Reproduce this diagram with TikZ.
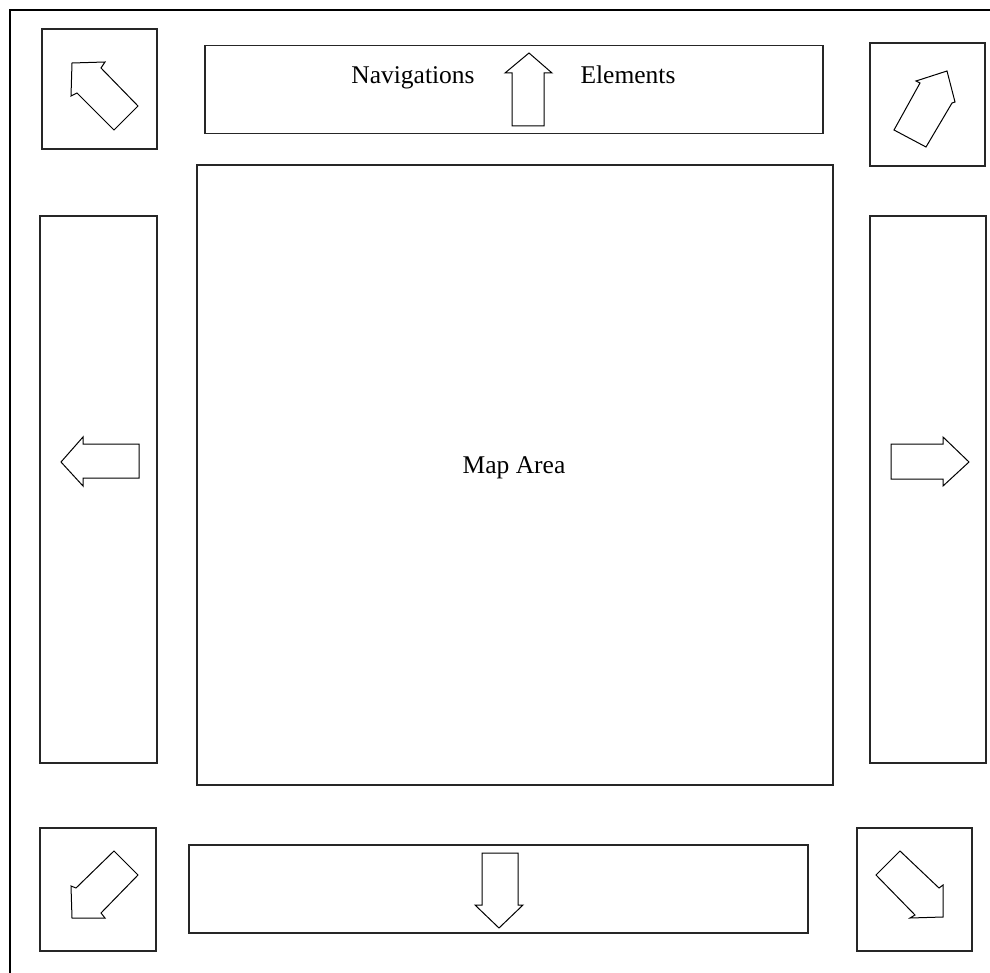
\documentclass[tikz,border=0pt]{standalone}
\usepackage{fontspec}
\setmainfont{Liberation Serif}
\begin{document}
\begin{tikzpicture}[x=1pt,y=-1pt,
  box/.style={draw=black!85,line width=1.4pt,inner sep=0pt,outer sep=0pt},
  blk/.style={draw=black,line width=1pt,line join=miter},
  lbl/.style={font=\fontsize{25.5}{28}\selectfont,inner sep=0pt,anchor=base}]
\useasboundingbox (0,0) rectangle (990,973);
\draw[line width=1.4pt] (990,10) -- (10,10) -- (10,973);
% boxes
\node[box,minimum width=115pt,minimum height=120pt] (tl) at (99.5,89) {};
\node[box,minimum width=618pt,minimum height=88pt] (top) at (514,89.5) {};
\node[box,minimum width=115pt,minimum height=123pt] (tr) at (927.5,104.5) {};
\node[box,minimum width=636pt,minimum height=620pt] (map) at (515,475) {};
\node[box,minimum width=117pt,minimum height=547pt] (left) at (98.5,489.5) {};
\node[box,minimum width=116pt,minimum height=547pt] (right) at (928,489.5) {};
\node[box,minimum width=116pt,minimum height=123pt] (bl) at (98,889.5) {};
\node[box,minimum width=619pt,minimum height=88pt] (bottom) at (498.5,889) {};
\node[box,minimum width=115pt,minimum height=123pt] (br) at (914.5,889.5) {};
% labels
\node[lbl] (nav) at (413,84) {Navigations};
\node[lbl] (elem) at (628,84) {Elements};
\node[lbl] (maplbl) at (514,473) {Map Area};
% block arrows
\draw[blk] (72,63) -- (105,62) -- (101,68) -- (138,106) -- (114,130) -- (77,93) -- (71,96) -- cycle;
\draw[blk] (947,71) -- (955,102) -- (952,103) -- (926,147) -- (894,130) -- (920,83) -- (916,81) -- cycle;
\draw[blk] (72,918) -- (71,886) -- (76,888) -- (114,851) -- (138,875) -- (101,913) -- (105,918) -- cycle;
\draw[blk] (943,917) -- (910,918) -- (915,915) -- (876,875) -- (900,851) -- (939,888) -- (943,885) -- cycle;
\draw[blk] (529,53) -- (552,73) -- (544,73) -- (544,126) -- (512,126) -- (512,73) -- (505,73) -- cycle;
\draw[blk] (61,462) -- (83,437) -- (83,444) -- (139,444) -- (139,478) -- (83,478) -- (83,486) -- cycle;
\draw[blk] (969,462) -- (943,437) -- (943,444) -- (891,444) -- (891,479) -- (943,479) -- (943,486) -- cycle;
\draw[blk] (499,928) -- (523,905) -- (518,905) -- (518,853) -- (482,853) -- (482,905) -- (475,905) -- cycle;
\end{tikzpicture}
\end{document}
